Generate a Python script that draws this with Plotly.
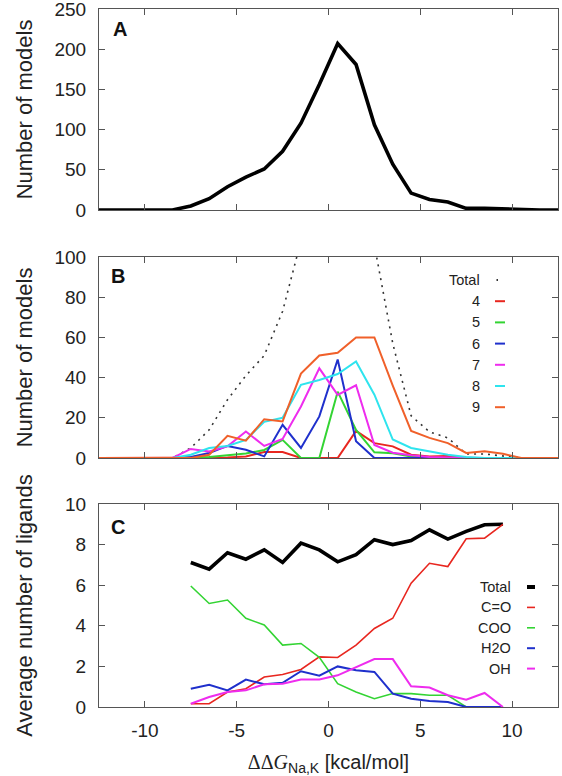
import plotly.graph_objects as go

# ---------------- data ----------------
bins_all = [-12.5, -11.5, -10.5, -9.5, -8.5, -7.5, -6.5, -5.5, -4.5, -3.5, -2.5, -1.5, -0.5,
            0.5, 1.5, 2.5, 3.5, 4.5, 5.5, 6.5, 7.5, 8.5, 9.5, 10.5, 11.5, 12.5]
models_total = [0, 0, 0, 0, 0, 5, 14, 29, 41, 51, 73, 108, 156,
                207, 181, 106, 57, 21, 13, 10, 2, 2, 1, 0, 0, 0]

lig4 = [0, 0, 0, 0, 0, 0, 0, 0.3, 0.8, 3, 3, 0, 0,
        0, 13.5, 7.4, 5.8, 1.6, 0.8, 1, 0, 0, 0, 0, 0, 0]
lig5 = [0, 0, 0, 0, 0, 0, 0.5, 1.5, 2.2, 4, 9, 0, 0,
        33, 14, 2.8, 2.4, 0.8, 0, 0, 0, 0, 0, 0, 0, 0]
lig6 = [0, 0, 0, 0, 0, 0.5, 2.5, 6, 4.1, 0.8, 16.5, 5, 20.7,
        49, 8.3, 0, 0, 0, 0, 0, 0, 0, 0, 0, 0, 0]
lig7 = [0, 0, 0, 0, 0, 4.5, 3.3, 5.8, 13.2, 6, 9.5, 25.6, 44.6,
        31.4, 36.2, 6.5, 2.6, 1.4, 0.5, 0.3, 0, 0, 0, 0, 0, 0]
lig8 = [0, 0, 0, 0, 0, 1.6, 5, 6, 9, 18, 20, 36.4, 38.8,
        41.8, 48, 31.5, 9.2, 5, 3.3, 1.6, 0.5, 0, 0, 0, 0, 0]
lig9 = [0, 0, 0, 0, 0, 0, 1.6, 11, 8.6, 19.3, 18.2, 42, 51,
        52.4, 60, 60, 36, 13.5, 10, 7.4, 2.5, 3.3, 2.1, 0, 0, 0]

bins_c = [-7.5, -6.5, -5.5, -4.5, -3.5, -2.5, -1.5, -0.5, 0.5,
          1.5, 2.5, 3.5, 4.5, 5.5, 6.5, 7.5, 8.5, 9.5]
avg_total = [7.12, 6.79, 7.6, 7.28, 7.74, 7.12, 8.07, 7.74, 7.15,
             7.5, 8.24, 8.0, 8.2, 8.73, 8.27, 8.65, 8.98, 9.0]
avg_co = [0.16, 0.16, 0.74, 0.9, 1.48, 1.6, 1.85, 2.47, 2.44,
          3.05, 3.87, 4.37, 6.1, 7.08, 6.92, 8.29, 8.32, 9.0]
avg_coo = [5.96, 5.1, 5.27, 4.37, 4.04, 3.05, 3.13, 2.45, 1.15,
           0.74, 0.41, 0.66, 0.66, 0.58, 0.58, 0, 0, 0]
avg_h2o = [0.9, 1.1, 0.82, 1.35, 1.12, 1.19, 1.76, 1.54, 2.0,
           1.81, 1.73, 0.66, 0.41, 0.3, 0.25, 0, 0, 0]
avg_oh = [0.16, 0.49, 0.74, 0.82, 1.12, 1.15, 1.35, 1.35, 1.56,
          1.98, 2.36, 2.36, 1.02, 0.96, 0.58, 0.36, 0.69, 0]

x_ticks = [-10, -5, 0, 5, 10]
x_ticktext = ["-10", "-5", "0", "5", "10"]
legend_b = ["Total", "4", "5", "6", "7", "8", "9"]
legend_c = ["Total", "C=O", "COO", "H2O", "OH"]

# ---------------- style ----------------
RED, GREEN, BLUE = "#e8261f", "#33d433", "#1f30cc"
MAG, CYAN, ORANGE = "#ee2cee", "#2ee4ee", "#f0602a"
FONT = "Liberation Sans, Arial, sans-serif"
AX = "#555555"
TXT = "#222222"

W, H = 562, 776
L, R, T, B = 99, 4, 9, 69
PH = H - T - B


def py2paper(py):
    return (H - B - py) / PH


def px2paper(px):
    return (px - L) / (W - L - R)


fig = go.Figure()

# Panel A
fig.add_trace(go.Scatter(x=bins_all, y=models_total, mode="lines",
                         line=dict(color="black", width=3.6),
                         xaxis="x", yaxis="y", showlegend=False))

# Panel B
fig.add_trace(go.Scatter(x=bins_all, y=models_total, mode="lines",
                         line=dict(color="#333333", width=1.6, dash="2px,5px"),
                         xaxis="x2", yaxis="y2", showlegend=False, name="Total"))
b_series = [(lig4, RED), (lig5, GREEN), (lig6, BLUE), (lig7, MAG), (lig8, CYAN), (lig9, ORANGE)]
for (vals, col), name in zip(b_series, legend_b[1:]):
    fig.add_trace(go.Scatter(x=bins_all, y=vals, mode="lines", name=name,
                             line=dict(color=col, width=2),
                             xaxis="x2", yaxis="y2", showlegend=False))

# Panel C
c_series = [(avg_total, "black", 3.6), (avg_co, RED, 1.6), (avg_coo, GREEN, 1.6),
            (avg_h2o, BLUE, 2), (avg_oh, MAG, 2)]
for (vals, col, w), name in zip(c_series, legend_c):
    fig.add_trace(go.Scatter(x=bins_c, y=vals, mode="lines", name=name,
                             line=dict(color=col, width=w),
                             xaxis="x3", yaxis="y3", showlegend=False))

dom_a = [py2paper(210), py2paper(9)]
dom_b = [py2paper(458), py2paper(257)]
dom_c = [py2paper(707), py2paper(504)]

common_x = dict(range=[-12.5, 12.5], tickvals=x_ticks, ticktext=x_ticktext,
                ticks="inside", ticklen=6, automargin=False, ticklabeloverflow="allow",
                showline=True, linecolor=AX, linewidth=1, mirror="ticks",
                tickcolor=AX, showgrid=False, zeroline=False, ticklabelstandoff=6,
                tickfont=dict(family=FONT, size=19, color=TXT))
common_y = dict(ticks="inside", ticklen=6, showline=True, linecolor=AX, linewidth=1,
                mirror="ticks", tickcolor=AX, showgrid=False, zeroline=False,
                automargin=False, ticklabelstandoff=8, ticklabeloverflow="allow",
                tickfont=dict(family=FONT, size=19, color=TXT),
                title_font=dict(family=FONT, size=22, color=TXT))

fig.update_layout(
    width=W, height=H,
    margin=dict(l=L, r=R, t=T, b=B),
    paper_bgcolor="white", plot_bgcolor="white",
    showlegend=False,
    xaxis=dict(**common_x, domain=[0, 1], anchor="y", showticklabels=False),
    xaxis2=dict(**common_x, domain=[0, 1], anchor="y2", showticklabels=False),
    xaxis3=dict(**common_x, domain=[0, 1], anchor="y3",
                title=dict(text="<span style='font-family:Liberation Serif'>ΔΔ<i>G</i></span><sub>Na,K</sub> [kcal/mol]",
                           font=dict(family=FONT, size=20, color=TXT), standoff=16)),
    yaxis=dict(**common_y, domain=dom_a, anchor="x", range=[0, 250], dtick=50,
               title=dict(text="Number of models", standoff=15)),
    yaxis2=dict(**common_y, domain=dom_b, anchor="x2", range=[0, 100], dtick=20,
                title=dict(text="Number of models", standoff=15)),
    yaxis3=dict(**common_y, domain=dom_c, anchor="x3", range=[0, 10], dtick=2,
                title=dict(text="Average number of ligands", standoff=26)),
)

# Panel letters
for letter, (px, py) in zip(["A", "B", "C"], [(111, 29), (109, 276), (109, 527)]):
    fig.add_annotation(text="<b>%s</b>" % letter, x=px2paper(px), y=py2paper(py),
                       xref="paper", yref="paper", xanchor="left", yanchor="middle",
                       showarrow=False, font=dict(family=FONT, size=20, color="#111"))

# Legend for panel B
b_colors = ["#333333", RED, GREEN, BLUE, MAG, CYAN, ORANGE]
for i, (name, col) in enumerate(zip(legend_b, b_colors)):
    yy = 280 + i * 21.2
    fig.add_annotation(text=name, x=px2paper(482), y=py2paper(yy), xref="paper", yref="paper",
                       xanchor="right", yanchor="middle", showarrow=False,
                       font=dict(family=FONT, size=14.5, color=TXT))
    if i == 0:
        x0, x1 = 496.5, 498
    else:
        x0, x1 = 495, 505
    fig.add_shape(type="line", xref="paper", yref="paper",
                  x0=px2paper(x0), x1=px2paper(x1), y0=py2paper(yy), y1=py2paper(yy),
                  line=dict(color=col, width=2))

# Legend for panel C
c_colors = ["black", RED, GREEN, BLUE, MAG]
c_widths = [4, 1.6, 1.6, 2, 2]
for i, (name, col, w) in enumerate(zip(legend_c, c_colors, c_widths)):
    yy = 587 + i * 20.4
    fig.add_annotation(text=name, x=px2paper(513), y=py2paper(yy), xref="paper", yref="paper",
                       xanchor="right", yanchor="middle", showarrow=False,
                       font=dict(family=FONT, size=14.5, color=TXT))
    fig.add_shape(type="line", xref="paper", yref="paper",
                  x0=px2paper(527), x1=px2paper(535), y0=py2paper(yy), y1=py2paper(yy),
                  line=dict(color=col, width=w))

fig.write_html("out.html", config={"displayModeBar": False},
               post_script="document.body.style.margin='0';document.body.style.overflow='hidden';")
